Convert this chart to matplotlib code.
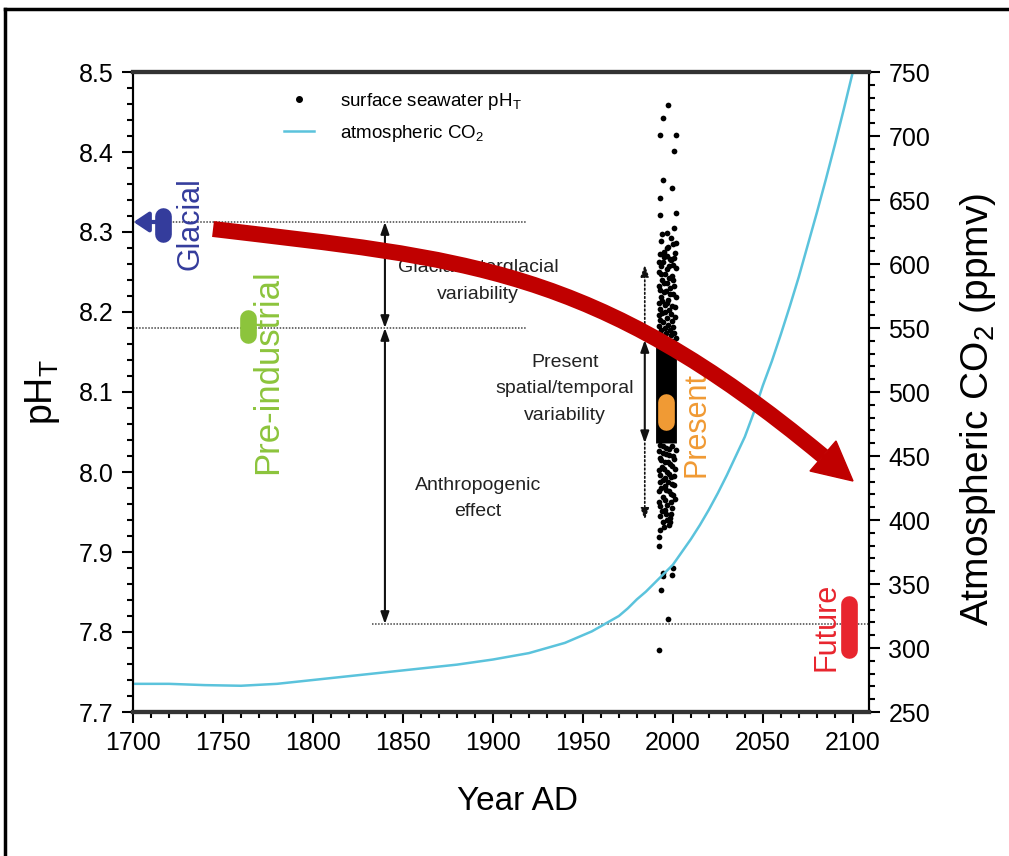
import matplotlib
matplotlib.use('Agg')
import matplotlib.pyplot as plt
from matplotlib.path import Path
from matplotlib.patches import PathPatch, Polygon
from matplotlib.lines import Line2D
from matplotlib.ticker import MultipleLocator

plt.rcParams['font.family'] = ['Liberation Sans', 'DejaVu Sans']
plt.rcParams['mathtext.fontset'] = 'custom'
plt.rcParams['mathtext.rm'] = 'Liberation Sans'

# atmospheric CO2 (ppmv)
co2_year = [1700, 1720, 1740, 1760, 1780, 1800, 1820, 1840, 1860, 1880, 1900, 1920,
            1940, 1945, 1950, 1955, 1960, 1965, 1970, 1975, 1980, 1985, 1990, 1995,
            2000, 2005, 2010, 2015, 2020, 2025, 2030, 2035, 2040, 2045, 2050, 2055,
            2060, 2065, 2070, 2075, 2080, 2085, 2090, 2095, 2100]
co2_ppmv = [272, 272, 271, 270.5, 272, 275, 278, 281, 284, 287, 291, 296,
            304, 307, 310, 313, 317, 321, 325, 331, 338, 344, 351, 358,
            365, 375, 385, 396, 408, 421, 435, 450, 465, 484, 505, 524,
            545, 567, 590, 615, 640, 666, 693, 721, 750]

# surface seawater pH measurements around 2000
ph_year = [1997.2, 1994.4, 1992.8, 2001.7, 2000.6, 1994.4, 1999.4, 1992.8, 2001.7, 1992.8,
           2000.6, 1996.7, 2001.7, 1993.5, 1997.5, 2000.0,
           # upper dense band
           1993.0, 1996.5, 2000.5, 1994.5, 1998.0, 2001.5, 1992.5, 1995.5, 1999.5, 1993.8,
           1997.0, 2000.8, 1992.8, 1995.0, 1998.5, 2001.8, 1994.0, 1996.8, 1999.8, 1993.0,
           1995.8, 1998.8, 2001.0, 1992.6, 1994.8, 1997.5, 2000.2, 1993.5, 1996.2, 1999.0,
           2001.5, 1994.2, 1997.8, 1993.2, 1999.0, 1995.0,
           1995.2, 1998.2, 1992.2, 2000.3, 1996.5, 1993.2, 1997.6, 2000.0, 1995.0, 1992.5,
           1998.2, 1996.2, 2000.2, 1993.5, 1997.5, 1992.3, 1995.5, 2001.0, 1997.8, 1994.0,
           1992.2, 1996.5, 1999.5, 1992.5, 1995.5, 1998.5, 2000.8, 1993.2, 1995.8, 1999.8,
           1996.5, 1998.8, 1994.2, 2001.0,
           # lower dense band
           1993.0, 1996.0, 1999.5, 2001.5, 1994.5, 1997.8, 1992.6, 2000.5, 1995.5, 1998.5,
           1993.8, 2001.2, 1996.8, 1992.8, 1999.2, 1994.8, 1997.5, 2000.8, 1993.2, 1996.0,
           1998.8, 1994.5, 2001.0, 1992.5, 1997.0, 1999.8, 1993.8, 1996.2, 1998.2, 1994.8,
           1997.6, 1993.0,
           1994.5, 1998.0, 1992.2, 1996.2, 2000.2, 1993.5, 1997.2, 1999.8, 1995.2, 1992.4,
           1998.0, 2000.5, 1995.8, 1993.0, 1999.5, 1995.5, 1992.5, 1997.8, 2000.0, 1995.8,
           1993.0, 1999.0, 1995.5, 1992.6, 1996.5, 1999.2, 1995.2, 1998.5,
           # sparse low values
           1992.4, 1992.4, 1994.3, 2000.0, 1994.4, 1999.6, 1993.2, 1997.4, 1992.2]
ph_value = [8.459, 8.443, 8.421, 8.421, 8.401, 8.365, 8.355, 8.343, 8.324, 8.321,
            8.305, 8.299, 8.286, 8.289, 8.281, 8.285,
            8.272, 8.270, 8.268, 8.262, 8.258, 8.255, 8.250, 8.248, 8.245, 8.240,
            8.236, 8.233, 8.228, 8.225, 8.222, 8.219, 8.214, 8.211, 8.208, 8.204,
            8.200, 8.197, 8.194, 8.190, 8.187, 8.184, 8.181, 8.177, 8.174, 8.171,
            8.168, 8.166, 8.163, 8.258, 8.265, 8.275,
            8.269, 8.266, 8.262, 8.259, 8.254, 8.247, 8.243, 8.240, 8.236, 8.233,
            8.230, 8.226, 8.222, 8.219, 8.215, 8.211, 8.209, 8.206, 8.202, 8.199,
            8.196, 8.193, 8.189, 8.182, 8.180, 8.177, 8.174, 8.171, 8.168, 8.164,
            8.280, 8.293, 8.298, 8.274,
            8.034, 8.030, 8.032, 8.027, 8.024, 8.021, 8.018, 8.016, 8.013, 8.010,
            8.006, 8.004, 8.000, 7.996, 7.994, 7.990, 7.987, 7.984, 7.980, 7.977,
            7.973, 7.969, 7.966, 7.962, 7.959, 7.955, 7.951, 7.947, 7.943, 7.938,
            7.934, 7.928,
            8.033, 8.029, 8.026, 8.022, 8.020, 8.015, 8.012, 8.008, 8.004, 8.002,
            7.998, 7.995, 7.992, 7.988, 7.985, 7.982, 7.976, 7.976, 7.971, 7.965,
            7.958, 7.962, 7.952, 7.945, 7.940, 7.948, 7.931, 7.938,
            7.919, 7.907, 7.874, 7.880, 7.870, 7.871, 7.853, 7.816, 7.778]

# dense core of present-day values
core_year = 1996.0
core_ph = [8.036, 8.165]

# pH estimates for each period
periods = ['Glacial', 'Pre-industrial', 'Present', 'Future']
period_year = [1716.7, 1764.0, 1996.0, 2098.0]
period_low = [8.297, 8.171, 8.062, 7.778]
period_high = [8.320, 8.192, 8.087, 7.835]
period_colors = ['#343c9c', '#8cc43c', '#f09a34', '#e8252e']

ph_glacial = 8.3125
ph_preind = 8.18
ph_future = 7.81
present_range = [8.036, 8.165]
present_outer = [7.94, 8.259]

fig = plt.figure(figsize=(10.09, 8.56), dpi=100)
W, H = 1009, 856
ax = fig.add_axes([133 / W, 1 - 712 / H, (869 - 133) / W, (712 - 72) / H])
ax2 = ax.twinx()

ax.set_xlim(1700, 2109)
ax.set_ylim(7.7, 8.5)
ax2.set_ylim(250, 750)

cyan = '#5bc3dc'
ax2.plot(co2_year, co2_ppmv, color=cyan, lw=1.8, zorder=2)

# reference levels
dot = dict(color='#444444', lw=1.1, ls=(0, (1, 1)), zorder=1)
ax.plot([1700, 1919], [ph_glacial, ph_glacial], **dot)
ax.plot([1700, 1919], [ph_preind, ph_preind], **dot)
ax.plot([1833, 2109], [ph_future, ph_future], **dot)

# range arrows
arr = dict(arrowstyle='<|-|>,head_length=0.7,head_width=0.25', color='#111111', lw=1.5,
           shrinkA=0, shrinkB=0)
ax.annotate('', xy=(1840, ph_glacial), xytext=(1840, ph_preind), arrowprops=arr)
ax.annotate('', xy=(1840, ph_preind), xytext=(1840, ph_future), arrowprops=arr)
ax.annotate('', xy=(1984.4, present_range[1]), xytext=(1984.4, present_range[0]), arrowprops=arr)
darr = dict(arrowstyle='-|>,head_length=0.7,head_width=0.25', color='#111111', lw=1.2,
            ls=(0, (1, 1.5)), shrinkA=0, shrinkB=0)
ax.annotate('', xy=(1984.4, present_outer[1]), xytext=(1984.4, present_range[1]), arrowprops=darr)
ax.annotate('', xy=(1984.4, present_outer[0]), xytext=(1984.4, present_range[0]), arrowprops=darr)

# measurements
ax.plot([core_year, core_year], core_ph, color='k', lw=15, solid_capstyle='butt', zorder=3)
ax.scatter(ph_year, ph_value, s=17, color='k', zorder=3, linewidths=0)

# period markers
for yr, lo, hi, c in zip(period_year, period_low, period_high, period_colors):
    ax.plot([yr, yr], [lo, hi], color=c, lw=12, solid_capstyle='round', zorder=4)
ax.annotate('', xy=(1700.3, ph_glacial), xytext=(period_year[0], ph_glacial),
            arrowprops=dict(arrowstyle='-|>,head_length=0.9,head_width=0.6',
                            color=period_colors[0], lw=3, shrinkA=0, shrinkB=0), zorder=4)

lab = dict(rotation=90, ha='center', va='center', fontsize=22)
ax.text(1731.7, 8.311, 'Glacial', color=period_colors[0], **lab)
ax.text(1775.0, 8.126, 'Pre-industrial', color=period_colors[1], rotation=90,
        ha='center', va='center', fontsize=25)
ax.text(2013.0, 8.059, 'Present', color=period_colors[2], **lab)
ax.text(2085.5, 7.806, 'Future', color=period_colors[3], **lab)

txt = dict(ha='center', va='center', fontsize=14, color='#222222', linespacing=1.75)
ax.text(1891.7, 8.239, 'Glacial-interglacial\nvariability', **txt)
ax.text(1940.0, 8.104, 'Present\nspatial/temporal\nvariability', **txt)
ax.text(1891.7, 7.967, 'Anthropogenic\neffect', **txt)

handles = [Line2D([], [], marker='o', ls='', color='k', ms=4),
           Line2D([], [], color=cyan, lw=1.8)]
ax.legend(handles, ['surface seawater pH$_\\mathregular{T}$', 'atmospheric CO$_\\mathregular{2}$'],
          loc='upper left', bbox_to_anchor=(0.182, 0.997), frameon=False, fontsize=13.5,
          handlelength=1.6, handletextpad=1.4, labelspacing=0.6)

# axes styling
for a in (ax, ax2):
    a.spines['top'].set_linewidth(3)
    a.spines['top'].set_color('#333333')
    a.spines['bottom'].set_linewidth(3)
    a.spines['bottom'].set_color('#333333')
    a.spines['left'].set_linewidth(1.5)
    a.spines['right'].set_linewidth(1.5)
    a.tick_params(which='major', direction='out', length=8, width=1.5, labelsize=18, pad=6)
    a.tick_params(which='minor', direction='out', length=4, width=1.5)

ax.xaxis.set_major_locator(MultipleLocator(50))
ax.xaxis.set_minor_locator(MultipleLocator(10))
ax.yaxis.set_major_locator(MultipleLocator(0.1))
ax.yaxis.set_minor_locator(MultipleLocator(0.02))
ax2.yaxis.set_major_locator(MultipleLocator(50))
ax2.yaxis.set_minor_locator(MultipleLocator(10))
ax.set_xticks(range(1700, 2101, 50))
ax.yaxis.set_major_formatter(plt.FuncFormatter(lambda v, p: '%.1f' % v))

ax.set_xlabel('Year AD', fontsize=24)
ax.xaxis.set_label_coords(0.522, -0.115)
ax.set_ylabel('pH$_\\mathregular{T}$', fontsize=27)
ax.yaxis.set_label_coords(-0.097, 0.5)
ax2.set_ylabel('Atmospheric CO$_\\mathregular{2}$ (ppmv)', fontsize=28)
ax2.yaxis.set_label_coords(1.121, 0.472)

# big red trend arrow drawn over the figure (pixel positions)
def fp(x, y):
    return (x / W, 1 - y / H)

verts = [fp(213, 229), fp(463, 259), fp(593, 265), fp(823, 456)]
shaft = PathPatch(Path(verts, [Path.MOVETO, Path.CURVE4, Path.CURVE4, Path.CURVE4]),
                  transform=fig.transFigure, fill=False, edgecolor='#c00000', lw=11.5,
                  capstyle='butt', zorder=10)
fig.add_artist(shaft)
head = Polygon([fp(853, 481), fp(810, 471), fp(836, 441)], closed=True,
               transform=fig.transFigure, facecolor='#c00000', edgecolor='#c00000', zorder=10)
fig.add_artist(head)

# outer frame
fig.add_artist(Line2D([5 / W, 5 / W], [0, 1 - 9 / H], transform=fig.transFigure, color='k', lw=2.5))
fig.add_artist(Line2D([5 / W, 1], [1 - 9 / H, 1 - 9 / H], transform=fig.transFigure, color='k', lw=2.5))

fig.savefig('out.png', dpi=100)
